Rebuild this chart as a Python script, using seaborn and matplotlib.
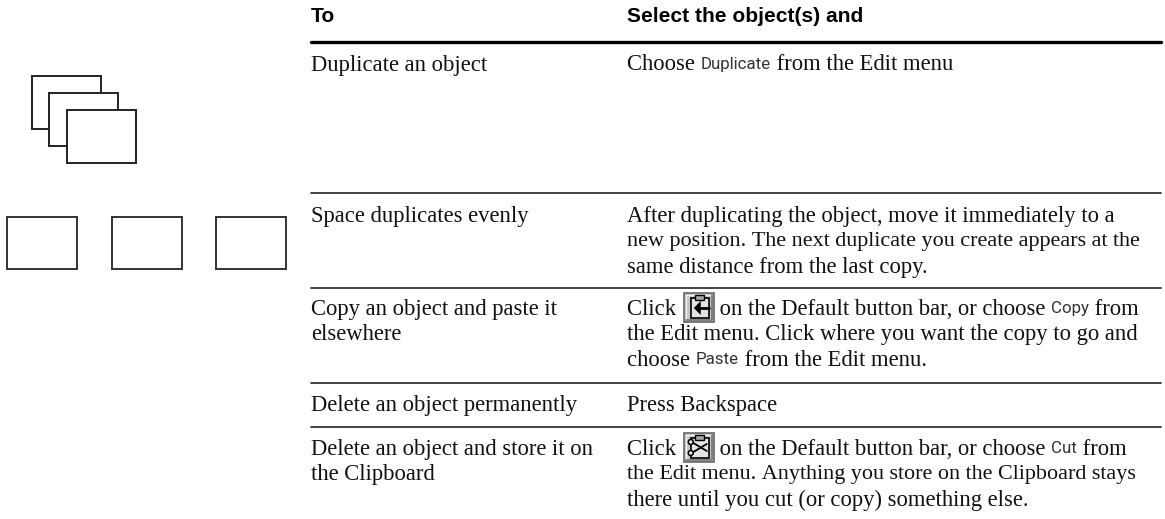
import matplotlib
matplotlib.use("Agg")
import matplotlib.pyplot as plt
import pandas as pd
import seaborn as sns
from matplotlib.patches import Circle, Polygon, Rectangle
from matplotlib.lines import Line2D

sns.set_theme(style="white")

SERIF = "Liberation Serif"
NARROW = "Roboto"
BOLD = "Liberation Sans"

headers = ["To", "Select the object(s) and"]

actions = [
    ["Duplicate an object"],
    ["Space duplicates evenly"],
    ["Copy an object and paste it", "elsewhere"],
    ["Delete an object permanently"],
    ["Delete an object and store it on", "the Clipboard"],
]

# segments: (text, style), style n = narrow menu word, i = button icon
steps = [
    [[("Choose ", "s"), ("Duplicate", "n"), (" from the Edit menu", "s")]],
    [[("After duplicating the object, move it immediately to a", "s")],
     [("new position. The next duplicate you create appears at the", "s")],
     [("same distance from the last copy.", "s")]],
    [[("Click ", "s"), ("", "i"), (" on the Default button bar, or choose ", "s"), ("Copy", "n"), (" from", "s")],
     [("the Edit menu. Click where you want the copy to go and", "s")],
     [("choose ", "s"), ("Paste", "n"), (" from the Edit menu.", "s")]],
    [[("Press Backspace", "s")]],
    [[("Click ", "s"), ("", "i"), (" on the Default button bar, or choose ", "s"), ("Cut", "n"), (" from", "s")],
     [("the Edit menu. Anything you store on the Clipboard stays", "s")],
     [("there until you cut (or copy) something else.", "s")]],
]

row_tops = [62.5, 214, 307, 403, 447]
rule_rows = [41.5, 193, 288, 383, 427]
rule_x = [311, 1161]
LINE_H = 25.3
FS = 16.3
# these two lines are set a bit tighter in the original
tight_lines = {(1, 1): 15.93, (4, 1): 15.98}

fig, ax = plt.subplots(figsize=(11.65, 5.19), dpi=100)
ax.set_position([0, 0, 1, 1])

rules = pd.DataFrame(
    [{"x": x, "y": y, "rule": i} for i, y in enumerate(rule_rows) for x in rule_x]
)
sns.lineplot(data=rules[rules.rule > 0], x="x", y="y", units="rule", estimator=None,
             color="#333333", lw=1.3, ax=ax, legend=False)
sns.lineplot(data=rules[rules.rule == 0], x="x", y="y", color="black", lw=2.4, ax=ax, legend=False)
ax.axis("off")
ax.set_xlim(0, 1165)
ax.set_ylim(519, 0)

# header
ax.text(311, 16.5, headers[0], family=BOLD, weight="bold", fontsize=15.1, va="center", color="black")
ax.text(627, 16.5, headers[1], family=BOLD, weight="bold", fontsize=15.1, va="center", color="black")


def draw_icon(x, y, kind):
    # button bar icon, y is the row centre
    ax.add_patch(Rectangle((x, y - 14.5), 30, 29, fc="#c4c4c4", ec="#666666", lw=1.2, zorder=3))
    ax.add_line(Line2D([x + 2, x + 2, x + 27], [y + 12, y - 12, y - 12], color="#eeeeee", lw=1, zorder=4))
    ax.add_line(Line2D([x + 2, x + 28, x + 28], [y + 13, y + 13, y - 12], color="#777777", lw=1.2, zorder=4))
    ax.add_patch(Rectangle((x + 7, y - 9), 18, 20, fc="#e4e4e4", ec="black", lw=1.2, zorder=4))
    ax.add_patch(Rectangle((x + 11, y - 12), 9, 5, fc="#aaaaaa", ec="black", lw=1, zorder=5))
    if kind == "Copy":
        ax.add_patch(Polygon([[x + 10, y + 1], [x + 17, y - 6], [x + 17, y + 8]], fc="black", ec="none", zorder=5))
        ax.add_line(Line2D([x + 15, x + 25], [y + 1, y + 1], color="black", lw=2, zorder=5))
    else:
        ax.add_line(Line2D([x + 8, x + 23], [y - 5, y + 4], color="black", lw=1.3, zorder=5))
        ax.add_line(Line2D([x + 8, x + 23], [y + 6, y - 3], color="black", lw=1.3, zorder=5))
        ax.add_patch(Circle((x + 7, y - 5), 2.5, fc="#e4e4e4", ec="black", lw=1.1, zorder=6))
        ax.add_patch(Circle((x + 7, y + 6), 2.5, fc="#e4e4e4", ec="black", lw=1.1, zorder=6))


def draw_segments(x, y, segs, fs):
    rend = fig.canvas.get_renderer()
    inv = ax.transData.inverted()
    for txt, kind in segs:
        if kind == "i":
            word = [s[0] for s in segs if s[1] == "n"][0]
            draw_icon(x + 2, y, word)
            x += 32
            continue
        fam = NARROW if kind == "n" else SERIF
        size = 12.2 if kind == "n" else fs
        color = "#333333" if kind == "n" else "#111111"
        # nbsp so leading and trailing spaces get measured
        t = ax.text(x, y, txt.replace(" ", "\u00a0"), family=fam, fontsize=size,
                    va="center_baseline", color=color)
        bb = t.get_window_extent(rend)
        x = inv.transform((bb.x1, bb.y0))[0]


for i, top in enumerate(row_tops):
    for k, line in enumerate(actions[i]):
        ax.text(311, top + k * LINE_H, line, family=SERIF, fontsize=FS, va="center_baseline", color="#111111")
    for k, segs in enumerate(steps[i]):
        draw_segments(627, top + k * LINE_H, segs, tight_lines.get((i, k), FS))

# clip art on the left
for x, y in [(32, 76), (49, 93), (67, 110)]:
    ax.add_patch(Rectangle((x, y), 69, 52.5, fc="white", ec="#222222", lw=1.4, zorder=2))
for x in [7, 112, 216]:
    ax.add_patch(Rectangle((x, 217), 70, 52, fc="white", ec="#333333", lw=1.4, zorder=2))

fig.savefig("out.png", dpi=100)
